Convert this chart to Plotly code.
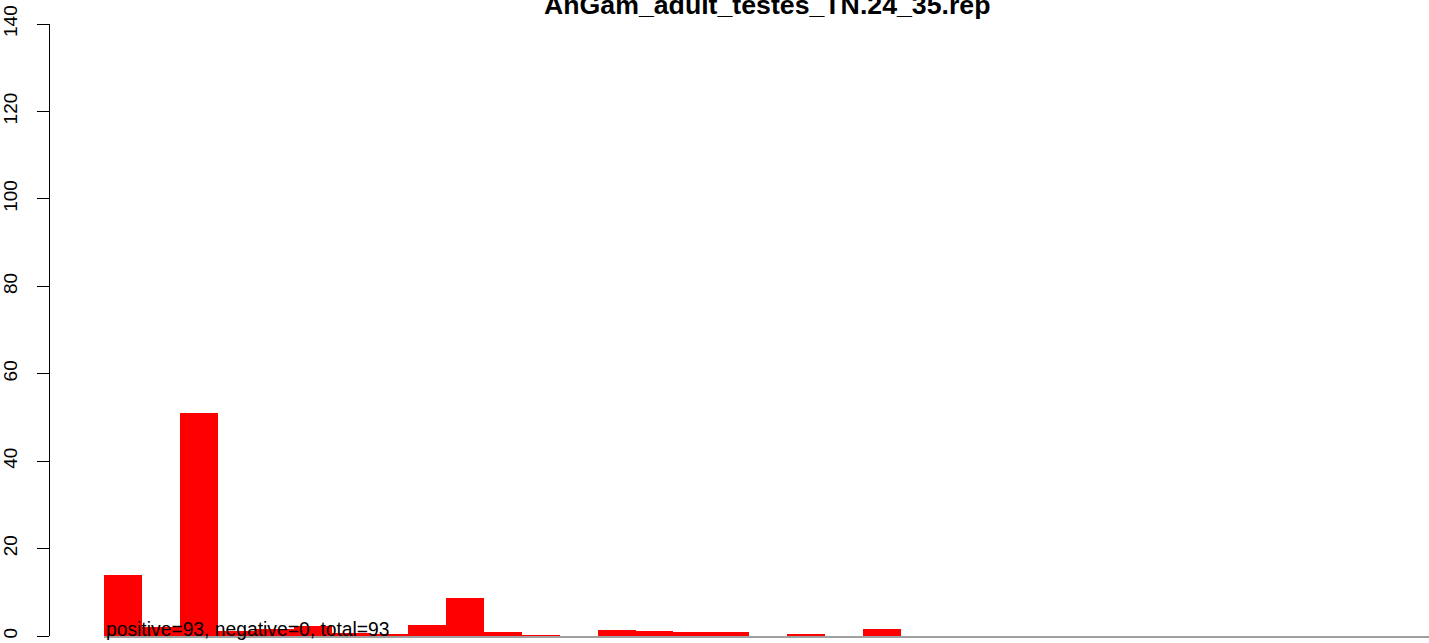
import plotly.graph_objects as go

# Per-bin values of the histogram (red bars), left to right
bin_index = list(range(35))
bin_values = [14, 2, 51, 1.2, 1.5, 2.3, 0.8, 0.3, 2.5, 8.75, 1.0, 0.15, 0,
              1.4, 1.15, 0.9, 0.9, 0, 0.25, 0, 1.6] + [0] * 14

y_ticks = [0, 20, 40, 60, 80, 100, 120, 140]
title_text = "AnGam_adult_testes_TN.24_35.rep"
summary_text = "positive=93, negative=0, total=93"

FONT = "Liberation Sans, Arial, Helvetica, sans-serif"
W, H = 1429, 643
ML, MR, MT, MB = 49, 0, 24, 7
plot_w = W - ML - MR
bar_start_px = 104

fig = go.Figure()
fig.add_trace(go.Bar(
    x=bin_index, y=bin_values, width=1,
    marker=dict(color="#ff0000", line=dict(width=0)),
    hoverinfo="x+y", showlegend=False,
))

fig.update_layout(
    width=W, height=H,
    margin=dict(l=ML, r=MR, t=MT, b=MB, pad=0, autoexpand=False),
    paper_bgcolor="white", plot_bgcolor="white",
    bargap=0,
    font=dict(family=FONT, size=19, color="black"),
    xaxis=dict(
        domain=[(bar_start_px - ML) / plot_w, 1],
        range=[-0.5, 34.4],
        showgrid=False, zeroline=False,
        showticklabels=False, ticks="",
        showline=True, linecolor="#a0a0a0", linewidth=2,
        automargin=False,
    ),
    yaxis=dict(
        anchor="free", position=0,
        range=[0, 140],
        tickvals=y_ticks,
        ticktext=[str(v) for v in y_ticks],
        tickangle=-90,
        ticks="outside", ticklen=12, tickwidth=1, tickcolor="black",
        ticklabelstandoff=12,
        showline=True, linecolor="black", linewidth=1,
        showgrid=False, zeroline=False,
        automargin=False,
        tickfont=dict(family=FONT, size=19, color="black"),
    ),
)

# Chart title, partly above the top edge of the page
fig.add_annotation(
    text="<b>" + title_text + "</b>",
    xref="paper", yref="paper",
    x=(767 - ML) / plot_w, y=(H - MB - 5) / (H - MT - MB),
    xanchor="center", yanchor="middle",
    showarrow=False,
    font=dict(family=FONT, size=26.7, color="black"),
)

# Summary counts written along the baseline
fig.add_annotation(
    text=summary_text,
    xref="x", yref="y",
    x=-0.5, y=0,
    xanchor="left", yanchor="bottom",
    yshift=-6,
    showarrow=False,
    font=dict(family=FONT, size=19.3, color="black"),
)

fig.write_html("out.html")
